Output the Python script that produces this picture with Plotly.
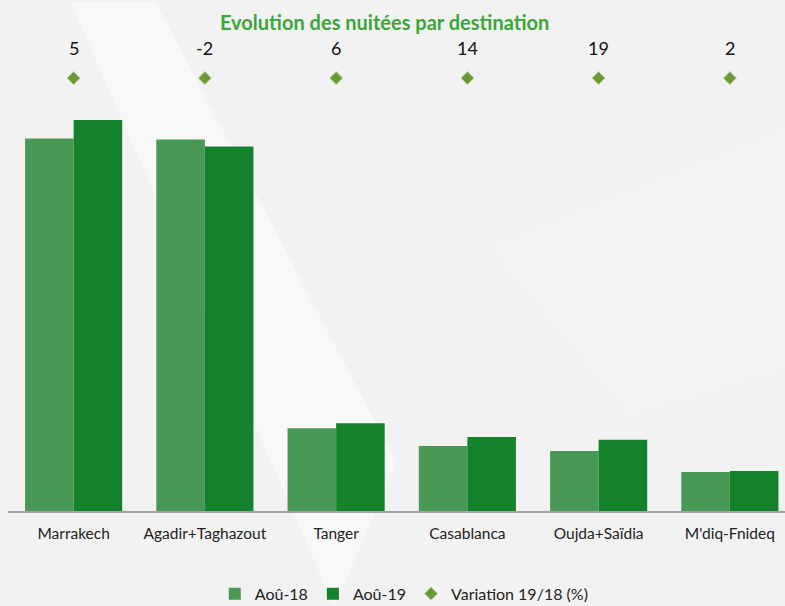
import plotly.graph_objects as go

destinations = ["Marrakech", "Agadir+Taghazout", "Tanger", "Casablanca", "Oujda+Saïdia", "M'diq-Fnideq"]
aout_18 = [895, 893, 199, 156, 144, 94]
aout_19 = [940, 876, 211, 178, 171, 96]
variation = [5, -2, 6, 14, 19, 2]

FONT = "Lato"
fig = go.Figure()
fig.add_trace(go.Bar(x=destinations, y=aout_18, name="Aoû-18",
                     marker=dict(color="#4a9855", line=dict(width=0))))
fig.add_trace(go.Bar(x=destinations, y=aout_19, name="Aoû-19",
                     marker=dict(color="#14822b", line=dict(width=0))))
fig.add_trace(go.Scatter(x=destinations, y=[0.9] * len(destinations), yaxis="y2",
                         mode="markers", name="Variation 19/18 (%)",
                         marker=dict(symbol="diamond", size=10, color="#6a9a35",
                                     line=dict(color="#b5d29a", width=1))))
for d, v in zip(destinations, variation):
    fig.add_annotation(x=d, y=0.962, yref="y2", text=str(v), showarrow=False,
                       font=dict(size=18, color="#111111", family=FONT))

# faint background decoration (light diagonal band)
fig.add_shape(type="path", xref="paper", yref="paper", layer="below",
              path="M 0.08 1.06 L 0.19 1.06 L 0.50 0.10 L 0.42 -0.2 Z",
              fillcolor="rgba(255,255,255,0.45)", line=dict(width=0))
fig.add_shape(type="path", xref="paper", yref="paper", layer="below",
              path="M 0.62 0.55 L 1.01 0.80 L 1.01 0.30 L 0.80 0.20 Z",
              fillcolor="rgba(255,255,255,0.15)", line=dict(width=0))

fig.update_layout(
    width=785, height=606,
    margin=dict(l=8, r=0, t=30, b=95, autoexpand=False),
    paper_bgcolor="#f2f2f2", plot_bgcolor="rgba(0,0,0,0)",
    barmode="group", bargap=0.26, bargroupgap=0,
    font=dict(family=FONT, size=15, color="#222222"),
    title=dict(text="<b>Evolution des nuitées par destination</b>", x=0.49, xanchor="center",
               y=0.962, yanchor="middle", font=dict(size=20, color="#3aa63a", family=FONT)),
    xaxis=dict(range=[-0.5, 5.42], showline=True, linecolor="#a3a3a3", linewidth=2,
               ticks="", showgrid=False, ticklabelstandoff=7,
               tickfont=dict(size=15.5, color="#222222")),
    yaxis=dict(range=[0, 1156], visible=False, showgrid=False),
    yaxis2=dict(range=[0, 1], overlaying="y", visible=False, showgrid=False),
    legend=dict(orientation="h", x=0.51, xanchor="center", y=-0.172, yanchor="middle",
                font=dict(size=16, color="#222222"), bgcolor="rgba(0,0,0,0)"),
    showlegend=True,
)
fig.write_html("out.html", config={"displayModeBar": False},
               post_script="document.body.style.margin='0px';")
